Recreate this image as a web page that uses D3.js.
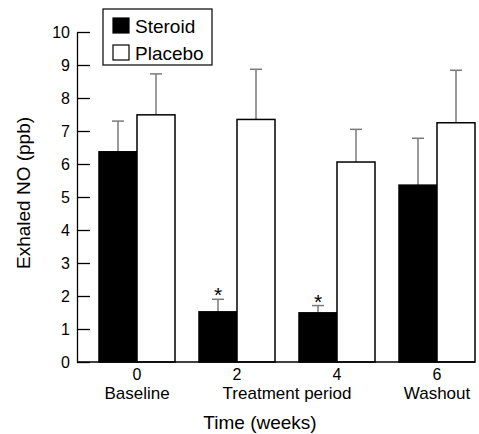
<!DOCTYPE html>
<html>
<head>
<meta charset="utf-8">
<script src="https://cdn.jsdelivr.net/npm/d3@7"></script>
<style>
  body { margin: 0; background: #fff; }
  svg { display: block; font-family: Arial, "Liberation Sans", Helvetica, sans-serif; }
</style>
</head>
<body>
<svg id="chart" width="479" height="434"></svg>
<script>
// data
var weeks = ['0', '2', '4', '6'];
var phases = ['Baseline', 'Treatment period', '', 'Washout'];
var series = ['Steroid', 'Placebo'];
var steroid = [6.37, 1.52, 1.49, 5.36];
var steroidErr = [7.3, 1.9, 1.71, 6.78];
var placebo = [7.49, 7.35, 6.06, 7.25];
var placeboErr = [8.73, 8.87, 7.05, 8.84];
var significant = [false, true, true, false];
var yTicks = [0, 1, 2, 3, 4, 5, 6, 7, 8, 9, 10];

var svg = d3.select('#chart'),
    left = 77,
    colors = { Steroid: '#000', Placebo: '#fff' };

var y = d3.scaleLinear().domain([0, 10]).range([362, 32]);
var x0 = d3.scaleBand().domain(weeks).range([87, 487]);
var x1 = d3.scaleBand().domain(series).range([12, 88]);

var rows = weeks.map(function(w, i) {
  return [
    { week: w, s: 'Steroid', v: steroid[i], e: steroidErr[i], star: significant[i] },
    { week: w, s: 'Placebo', v: placebo[i], e: placeboErr[i], star: false }
  ];
});
var flat = d3.merge(rows);

// y axis, ticks pointing inward
var yAxis = svg.append('g')
  .attr('transform', 'translate(' + left + ',0)')
  .call(d3.axisLeft(y).tickValues(yTicks).tickSize(-13).tickSizeOuter(0).tickPadding(7));
yAxis.selectAll('text').attr('font-size', 16).attr('fill', '#000');
yAxis.selectAll('line').attr('stroke', '#000').attr('stroke-width', 1.3);
yAxis.select('.domain').attr('stroke', '#000').attr('stroke-width', 1.3);

// error bars (drawn first so bars sit on top)
var errs = svg.append('g').attr('stroke', '#7a7a7a').attr('stroke-width', 1.5);
flat.forEach(function(d) {
  var cx = x0(d.week) + x1(d.s) + x1.bandwidth() / 2;
  errs.append('line').attr('x1', cx).attr('x2', cx).attr('y1', y(d.v)).attr('y2', y(d.e));
  errs.append('line').attr('x1', cx - 6).attr('x2', cx + 6).attr('y1', y(d.e)).attr('y2', y(d.e));
});

// bars
svg.append('g').selectAll('rect').data(flat).join('rect')
  .attr('x', function(d) { return x0(d.week) + x1(d.s); })
  .attr('y', function(d) { return y(d.v); })
  .attr('width', x1.bandwidth())
  .attr('height', function(d) { return y(0) - y(d.v); })
  .attr('fill', function(d) { return colors[d.s]; })
  .attr('stroke', '#000')
  .attr('stroke-width', 1.5);

// asterisks
svg.append('g').selectAll('text').data(flat.filter(function(d) { return d.star; })).join('text')
  .attr('x', function(d) { return x0(d.week) + x1(d.s) + x1.bandwidth() / 2; })
  .attr('y', function(d) { return y(d.e) + 3; })
  .attr('text-anchor', 'middle')
  .attr('font-size', 21)
  .text('*');

// x axis baseline
svg.append('line')
  .attr('x1', left).attr('x2', x0('6') + x1.range()[1])
  .attr('y1', y(0)).attr('y2', y(0))
  .attr('stroke', '#000').attr('stroke-width', 1.5);

// category labels
var cats = svg.append('g').attr('text-anchor', 'middle');
weeks.forEach(function(w) {
  cats.append('text').attr('x', x0(w) + x0.bandwidth() / 2).attr('y', 380)
    .attr('font-size', 16).text(w);
});
var phaseX = [x0('0') + 50, (x0('2') + x0('4')) / 2 + 50, null, x0('6') + 50];
phases.forEach(function(p, i) {
  if (!p) return;
  cats.append('text').attr('x', phaseX[i]).attr('y', 399)
    .attr('font-size', 17).text(p);
});

// axis titles
svg.append('text')
  .attr('x', 260).attr('y', 429)
  .attr('text-anchor', 'middle').attr('font-size', 19)
  .text('Time (weeks)');
svg.append('text')
  .attr('transform', 'translate(30,193) rotate(-90)')
  .attr('text-anchor', 'middle').attr('font-size', 19)
  .text('Exhaled NO (ppb)');

// legend
var legend = svg.append('g');
legend.append('rect')
  .attr('x', 103).attr('y', 9).attr('width', 109).attr('height', 56)
  .attr('fill', '#fff').attr('stroke', '#000').attr('stroke-width', 1.2);
series.forEach(function(s, i) {
  legend.append('rect')
    .attr('x', 113).attr('y', 18 + i * 27).attr('width', 16).attr('height', 15)
    .attr('fill', colors[s]).attr('stroke', '#000').attr('stroke-width', 1.2);
  legend.append('text')
    .attr('x', 135).attr('y', 33 + i * 27)
    .attr('font-size', 19)
    .text(s);
});
</script>
</body>
</html>
